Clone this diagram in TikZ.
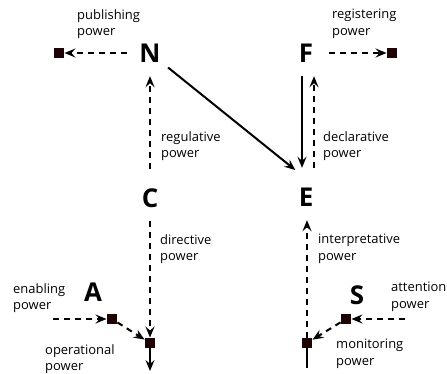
\documentclass[tikz,border=0pt]{standalone}
\usepackage{fontspec}
\setmainfont{Open Sans}
\usetikzlibrary{arrows.meta,positioning}
\definecolor{actcol}{RGB}{30,4,4}

\begin{document}
\begin{tikzpicture}[>={Stealth[length=11bp,width=9bp,inset=4bp]}, x=1bp, y=-1bp]

% --------- styles ----------
\tikzset{
  agent/.style={circle, inner sep=0pt, minimum size=46bp,
    font=\fontsize{26}{26}\selectfont\bfseries},
  act/.style={fill=actcol, inner sep=0pt, minimum size=10.5bp},
  pw/.style={->, line width=2bp, dash pattern=on 6bp off 5bp},
  fl/.style={->, line width=2bp},
  lbl/.style={anchor=north west, inner sep=0pt, align=left,
    font=\fontsize{13}{16.5}\selectfont}
}
\useasboundingbox (0,0) rectangle (447,373);

% agents
\node[agent] (N) at (150,53) {N};
\node[agent] (F) at (306,53) {F};
\node[agent] (C) at (150,198) {C};
\node[agent] (E) at (306,197) {E};
\node[agent] (A) at (93,292) {A};
\node[agent] (S) at (357,295) {S};

% acts (small squares)
\node[act] (pubsq) at (59,53) {};
\node[act] (regsq) at (392,53) {};
\node[act] (asq) at (112,319) {};
\node[act] (opsq) at (150,343) {};
\node[act] (ssq) at (346,319) {};
\node[act] (monsq) at (307,343) {};

% free ends
\coordinate (enin) at (53,319);
\coordinate (atin) at (405,319);
\coordinate (opout) at (150,371);
\coordinate (monin) at (307,368);

% ===================== top: N and F =====================
\draw[pw] (N) -- (pubsq);
\draw[pw] (F) -- (regsq);
\draw[pw, shorten <=6bp] (C) -- (N);
\draw[fl, shorten >=6bp] (N) -- ([xshift=-6bp]E.north);
\draw[fl, shorten >=6bp] ([xshift=-4bp]F.south) -- ([xshift=-4bp]E.north);
\draw[pw, shorten <=6bp] ([xshift=8bp]E.north) -- ([xshift=8bp]F.south);

% ===================== bottom: A and S =====================
\draw[pw] (C) -- (opsq);
\draw[pw] (enin) -- (asq);
\draw[pw] (asq) -- (opsq);
\draw[fl] (opsq) -- (opout);

\draw[pw] (atin) -- (ssq);
\draw[pw] (ssq) -- (monsq);
\draw[pw] (monsq) -- ([xshift=1bp]E.south);
\draw[line width=2bp] (monin) -- (monsq);

% labels
\node[lbl] (lpub) at (77,9) {publishing\\power};
\node[lbl] (lreg) at (332,9) {registering\\power};
\node[lbl] (lregu) at (161,131) {regulative\\power};
\node[lbl] (ldecl) at (323,131) {declarative\\power};
\node[lbl] (ldir) at (160,234) {directive\\power};
\node[lbl] (lint) at (318,234) {interpretative\\power};
\node[lbl] (lena) at (13,283) {enabling\\power};
\node[lbl] (latt) at (391,282) {attention\\power};
\node[lbl] (lop) at (45,344) {operational\\power};
\node[lbl] (lmon) at (336,339) {monitoring\\power};

\end{tikzpicture}
\end{document}
